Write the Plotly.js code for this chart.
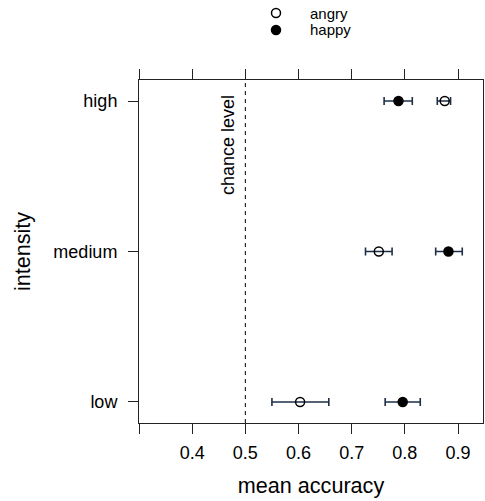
<!DOCTYPE html>
<html><head><meta charset="utf-8">
<script src="https://cdn.plot.ly/plotly-3.0.1.min.js"></script>
<style>html,body{margin:0;padding:0;background:#fff}#chart{width:485px;height:501px}</style>
</head><body><div id="chart"></div>
<script>
const categories = ['low', 'medium', 'high'];
const angryMean  = [0.603, 0.751, 0.875];
const angryLower = [0.550, 0.726, 0.861];
const angryUpper = [0.657, 0.776, 0.886];
const happyMean  = [0.796, 0.882, 0.788];
const happyLower = [0.763, 0.858, 0.761];
const happyUpper = [0.829, 0.908, 0.814];
const seriesNames = ['angry', 'happy'];
const xTickVals = [0.3, 0.4, 0.5, 0.6, 0.7, 0.8, 0.9];
const xTickText = ['', '0.4', '0.5', '0.6', '0.7', '0.8', '0.9'];
const chanceLevel = 0.5;

const font = 'Liberation Sans, Arial, sans-serif';
const barColor = '#1d2f48';

function trace(name, mean, lo, hi, filled) {
  return {
    type: 'scatter', mode: 'markers', name: name, showlegend: false,
    x: mean, y: categories,
    error_x: {type: 'data', symmetric: false,
      array: hi.map((v, i) => v - mean[i]),
      arrayminus: mean.map((v, i) => v - lo[i]),
      color: barColor, thickness: 1.6, width: 4},
    marker: {symbol: filled ? 'circle' : 'circle-open', size: 9,
      color: 'black', line: {color: 'black', width: 1.5}}
  };
}

const data = [
  trace(seriesNames[0], angryMean, angryLower, angryUpper, false),
  trace(seriesNames[1], happyMean, happyLower, happyUpper, true)
];

// manual key (legend) above the panel, in paper coordinates
const plotL = 139, plotR = 483, plotT = 80, plotB = 423;
const px = v => (v - plotL) / (plotR - plotL);
const py = v => (plotB - v) / (plotB - plotT);
const keyRows = [13, 30];
const keyShapes = seriesNames.map((n, i) => ({
  type: 'circle', xref: 'paper', yref: 'paper', xsizemode: 'pixel', ysizemode: 'pixel',
  xanchor: px(276), yanchor: py(keyRows[i]), x0: -4.5, x1: 4.5, y0: -4.5, y1: 4.5,
  line: {color: 'black', width: 1.5}, fillcolor: i === 0 ? 'white' : 'black'
}));
const keyAnn = seriesNames.map((n, i) => ({
  text: n, xref: 'paper', yref: 'paper', x: px(308), y: py(keyRows[i]),
  xanchor: 'left', yanchor: 'middle', showarrow: false, font: {size: 15}
}));

const layout = {
  width: 485, height: 501,
  margin: {l: 139, r: 2, t: 80, b: 78},
  paper_bgcolor: 'white', plot_bgcolor: 'white',
  font: {family: font, color: 'black', size: 18},
  showlegend: false,
  xaxis: {range: [0.3, 0.947], tickvals: xTickVals, ticktext: xTickText,
    ticks: 'outside', ticklen: 10, tickcolor: '#222', tickwidth: 1,
    showline: true, linecolor: '#222', linewidth: 1, mirror: 'ticks',
    showgrid: false, zeroline: false, ticklabelstandoff: 3,
    tickfont: {size: 18},
    title: {text: 'mean accuracy', font: {size: 21.6}, standoff: 16}},
  yaxis: {type: 'category', categoryarray: categories, categoryorder: 'array',
    range: [-0.14, 2.14],
    ticks: 'outside', ticklen: 10, tickcolor: '#222', tickwidth: 1,
    showline: true, linecolor: '#222', linewidth: 1, mirror: true,
    showgrid: false, zeroline: false, ticklabelstandoff: 7,
    tickfont: {size: 18},
    title: {text: 'intensity', font: {size: 21.6}, standoff: 16}},
  shapes: [{type: 'line', xref: 'x', yref: 'paper', x0: chanceLevel, x1: chanceLevel,
    y0: 0, y1: 1, line: {color: 'black', width: 1, dash: '4px,4px'}}].concat(keyShapes),
  annotations: [{text: 'chance level', x: 0.4675, xref: 'x', y: py(93), yref: 'paper',
    xanchor: 'center', yanchor: 'top', textangle: -90, showarrow: false,
    font: {size: 18}}].concat(keyAnn)
};

Plotly.newPlot('chart', data, layout, {displayModeBar: false, staticPlot: true});
</script></body></html>
